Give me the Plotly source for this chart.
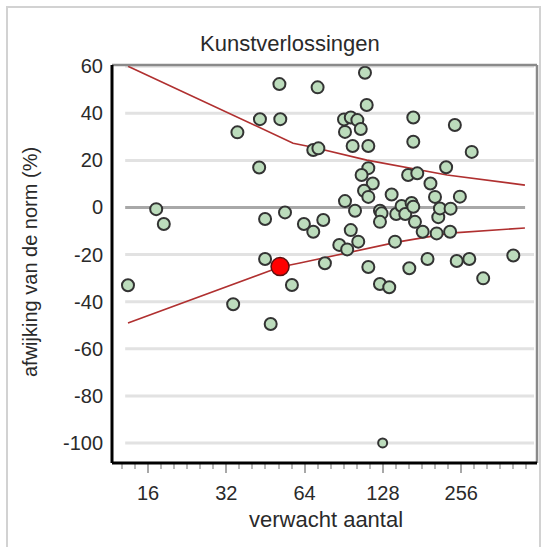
import numpy as np
import plotly.graph_objects as go

# Verwacht aantal kunstverlossingen per ziekenhuis en afwijking van de norm (%)
verwacht = [
    13.4, 17.2, 18.4, 35.3, 34.0, 42.8, 43.1, 45.1, 45.1, 51.2,
    51.6, 53.8, 57.2, 47.4, 63.6, 69.1, 69.1, 72.3, 71.8, 75.5,
    76.6, 87.0, 93.3, 91.5, 96.3, 102.9, 90.7, 96.3, 102.1, 91.5,
    105.2, 97.9, 112.5, 109.2, 110.9, 112.5, 106.0, 117.0, 108.3, 112.5,
    100.0, 124.7, 126.5, 124.7, 112.5, 124.7, 135.4, 138.3, 142.5, 144.0,
    151.0, 156.0, 160.0, 173.5, 165.0, 167.5, 167.5, 167.5, 170.0, 182.0,
    190.0, 161.7, 195.0, 203.0, 206.0, 209.0, 212.0, 233.0, 232.0, 224.0,
    242.0, 253.0, 246.0, 275.0, 281.0, 311.0, 406.0,
]
afwijking = [
    -33.0, -0.7, -7.0, 31.9, -41.1, 17.0, 37.5, -4.9, -21.9, 52.4,
    37.5, -2.1, -32.9, -49.5, -7.0, -10.3, 24.4, 25.1, 51.0, -5.3,
    -23.7, -15.9, -17.8, 2.7, -9.6, -14.5, 37.4, 38.2, 37.1, 32.1,
    33.3, 26.1, 26.1, 57.2, 43.5, 16.7, 13.8, 10.2, 7.1, 4.5,
    -1.4, -1.4, -2.5, -6.1, -25.3, -32.5, -33.9, 5.5, -14.5, -2.8,
    0.6, -2.8, 13.8, 14.5, 1.9, 0.3, 38.2, 27.9, -6.1, -10.3,
    -21.9, -25.8, 10.2, 4.5, -11.0, -4.1, -0.4, -0.5, -10.3, 17.1,
    35.0, 4.6, -22.7, -21.9, 23.6, -30.1, -20.4,
]

# Ziekenhuis buiten de schaal (afgekapt op -100)
buiten_verwacht = [127.7]
buiten_afwijking = [-100.0]

# Geselecteerd ziekenhuis
eigen_verwacht = [51.5]
eigen_afwijking = [-25.1]

# Controlegrenzen
boven_n = [13.4, 57.8, 68.9, 111.0, 226.0, 450.0]
boven_grens = [60.0, 27.3, 25.6, 20.1, 13.8, 9.5]
onder_n = [13.4, 51.5, 61.4, 145.0, 232.0, 450.0]
onder_grens = [-49.0, -25.3, -23.6, -14.7, -10.9, -8.7]

x_ticks = [16, 32, 64, 128, 256]
x_labels = ["16", "32", "64", "128", "256"]
y_ticks = [60, 40, 20, 0, -20, -40, -60, -80, -100]
y_labels = ["60", "40", "20", "0", "-20", "-40", "-60", "-80", "-100"]

FONT = "Liberation Sans, Arial, sans-serif"
TXT = "#2a2a2a"
GROEN = "#bcdcbc"
RAND = "#333333"
GRENS = "#b03030"

fig = go.Figure()

fig.add_trace(go.Scatter(x=boven_n, y=boven_grens, mode="lines",
                         line=dict(color=GRENS, width=1.6), hoverinfo="skip"))
fig.add_trace(go.Scatter(x=onder_n, y=onder_grens, mode="lines",
                         line=dict(color=GRENS, width=1.6), hoverinfo="skip"))

fig.add_trace(go.Scatter(x=verwacht, y=afwijking, mode="markers",
                         marker=dict(size=12, color=GROEN,
                                     line=dict(color=RAND, width=2))))
fig.add_trace(go.Scatter(x=buiten_verwacht, y=buiten_afwijking, mode="markers",
                         marker=dict(size=9, color=GROEN,
                                     line=dict(color=RAND, width=2))))
fig.add_trace(go.Scatter(x=eigen_verwacht, y=eigen_afwijking, mode="markers",
                         marker=dict(size=18, color="#ff0000",
                                     line=dict(color="#5a1010", width=1.5))))

shapes = []
# horizontale rasterlijnen
for v in y_ticks:
    if v == 0:
        shapes.append(dict(type="line", xref="x domain", yref="y",
                           x0=0.031, x1=0.972, y0=v, y1=v,
                           line=dict(color="#a8a8a8", width=3), layer="below"))
    else:
        shapes.append(dict(type="line", xref="x domain", yref="y",
                           x0=0.031, x1=0.993, y0=v, y1=v,
                           line=dict(color="#e2e2e2", width=3), layer="below"))
# kader: boven en rechts grijs, links en onder zwart
shapes += [
    dict(type="line", xref="x domain", yref="y domain", x0=0, x1=1, y0=1, y1=1,
         line=dict(color="#8a8a8a", width=2.5)),
    dict(type="line", xref="x domain", yref="y domain", x0=1, x1=1, y0=0, y1=1,
         line=dict(color="#8a8a8a", width=2.5)),
    dict(type="line", xref="x domain", yref="y domain", x0=0, x1=0, y0=0, y1=1,
         line=dict(color="#000000", width=3)),
    dict(type="line", xref="x domain", yref="y domain", x0=0, x1=1, y0=0, y1=0,
         line=dict(color="#000000", width=3)),
]
# paneelrand
shapes.append(dict(type="rect", xref="paper", yref="paper",
                   x0=(7 - 112) / 425, x1=(540 - 112) / 425,
                   y0=(463 - 560) / 398, y1=(463 - 7) / 398,
                   line=dict(color="#d2d2d2", width=2), layer="below"))

minor_x = (2.0 ** (np.arange(21, 54) / 6.0)).tolist()

fig.update_layout(
    width=543, height=547,
    margin=dict(l=112, r=6, t=65, b=84),
    paper_bgcolor="white", plot_bgcolor="white",
    showlegend=False,
    font=dict(family=FONT, color=TXT, size=20),
    shapes=shapes,
    xaxis=dict(
        type="log",
        range=[np.log10(2 ** 3.54), np.log10(2 ** 8.968)],
        tickvals=x_ticks, ticktext=x_labels,
        ticks="outside", ticklen=9, tickwidth=2, tickcolor="#a8a8a8",
        minor=dict(tickvals=minor_x, ticks="outside", ticklen=5,
                   tickwidth=2, tickcolor="#b8b8b8", showgrid=False),
        showgrid=False, zeroline=False, showline=False,
        tickfont=dict(size=20, color=TXT),
        ticklabelstandoff=3,
    ),
    yaxis=dict(
        range=[-108.5, 60.5],
        tickvals=y_ticks, ticktext=y_labels,
        ticks="", showgrid=False, zeroline=False, showline=False,
        tickfont=dict(size=20, color=TXT),
        ticklabelstandoff=8,
    ),
    annotations=[
        dict(text="Kunstverlossingen", xref="paper", yref="paper",
             x=(290 - 112) / 425, y=(463 - 43) / 398,
             xanchor="center", yanchor="middle", showarrow=False,
             font=dict(size=22, color=TXT, family=FONT)),
        dict(text="verwacht aantal", xref="paper", yref="paper",
             x=(326 - 112) / 425, y=(463 - 519) / 398,
             xanchor="center", yanchor="middle", showarrow=False,
             font=dict(size=22, color=TXT, family=FONT)),
        dict(text="afwijking van de norm (%)", xref="paper", yref="paper",
             x=(30 - 112) / 425, y=(463 - 262) / 398,
             xanchor="center", yanchor="middle", showarrow=False, textangle=-90,
             font=dict(size=20, color=TXT, family=FONT)),
    ],
)

fig.write_html("out.html")
